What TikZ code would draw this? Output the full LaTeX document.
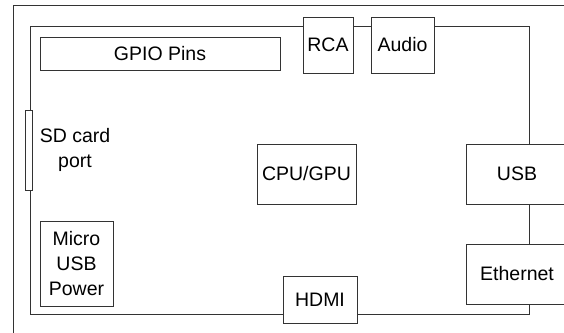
\documentclass[tikz,border=0pt]{standalone}
\usepackage{fontspec}
\setmainfont{Liberation Sans}
\tikzset{
  part/.style={draw=black!80, line width=1pt, inner sep=0pt, align=center, font=\fontsize{19.5}{25}\selectfont},
  board/.style={draw=black!80, line width=1pt},
  lbl/.style={inner sep=0pt, align=center, font=\fontsize{19.5}{25}\selectfont}
}
\begin{document}
\begin{tikzpicture}[x=1pt,y=-1pt]
\clip (0,0) rectangle (564,332);
\useasboundingbox (0,0) rectangle (564,332);
% outer frame
\coordinate (obl) at (13,340);
\coordinate (otl) at (13,5);
\coordinate (otr) at (570,5);
\draw[board] (obl) -- (otl) -- (otr);
% parts
\node[part, minimum width=240, minimum height=33] (gpio) at (160,53.5) {GPIO Pins};
\node[part, minimum width=50, minimum height=56] (rca) at (328,45) {RCA};
\node[part, minimum width=63, minimum height=56] (audio) at (402.5,45) {Audio};
\node[part, minimum width=99, minimum height=60] (cpu) at (306.5,174) {CPU/GPU};
\node[part, minimum width=102, minimum height=60] (usb) at (517,174) {USB};
\node[part, minimum width=102, minimum height=60] (eth) at (517,274) {Ethernet};
\node[part, minimum width=74, minimum height=47] (hdmi) at (320,299.5) {HDMI};
\node[part, minimum width=73, minimum height=85] (micro) at (76.5,263.5) {Micro\\USB\\Power};
\node[part, minimum width=7, minimum height=80] (sd) at (28.5,150) {};
\node[lbl] (sdl) at (75,150) {SD card\\port};
% board outline
\coordinate (tl) at (30,26);
\coordinate (br) at (529,314);
\draw[board] (sd.north -| tl) -- (tl) -- (tl -| rca.west);
\draw[board] (rca.east |- tl) -- (audio.west |- tl);
\draw[board] (audio.east |- tl) -- (tl -| br) -- (usb.north -| br);
\draw[board] (usb.south -| br) -- (eth.north -| br);
\draw[board] (eth.south -| br) -- (br) -- (br -| hdmi.east);
\draw[board] (hdmi.west |- br) -- (br -| tl) -- (sd.south -| tl);
\end{tikzpicture}
\end{document}
